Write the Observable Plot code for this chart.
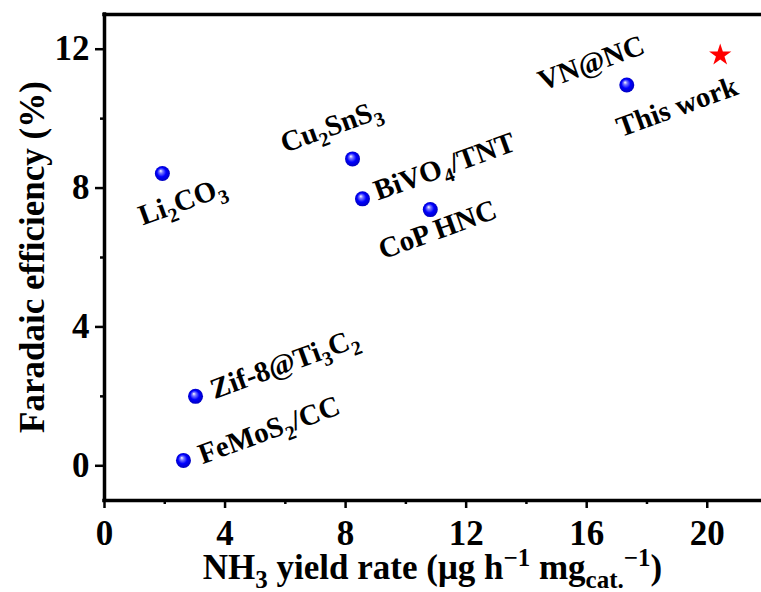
<!DOCTYPE html>
<html>
<head>
<meta charset="utf-8">
<script src="https://cdn.jsdelivr.net/npm/d3@7"></script>
<script src="https://cdn.jsdelivr.net/npm/@observablehq/plot@0.6"></script>
<style>
  html, body { margin: 0; padding: 0; background: #fff; }
  #chart svg { display: block; }
</style>
</head>
<body>
<div id="chart"></div>
<script>
// ---- data ----
const names      = ["Li_2CO_3", "Cu_2SnS_3", "BiVO_4/TNT", "CoP HNC", "VN@NC", "Zif-8@Ti_3C_2", "FeMoS_2/CC", "This work"];
const yieldRate  = [1.92, 8.23, 8.56, 10.81, 17.33, 3.02, 2.62, 20.43];
const efficiency = [8.42, 8.84, 7.69, 7.38, 10.97, 2.00, 0.155, 11.83];
// label anchor points (data units)
const labelX     = [2.58, 7.52, 11.28, 11.05, 16.15, 5.98, 5.46, 19.0];
const labelY     = [7.62, 9.78, 8.62, 6.80, 11.60, 2.94, 1.03, 10.34];
const xTicks      = [0, 4, 8, 12, 16, 20];
const xMinorTicks = [2, 6, 10, 14, 18];
const yTicks      = [0, 4, 8, 12];
const yMinorTicks = [2, 6, 10];
const xTitle = "NH_3 yield rate (μg h^{−1} mg_{cat.}^{−1})";
const yTitle = "Faradaic efficiency (%)";

const rows = names.map((n, i) => ({name: n, x: yieldRate[i], y: efficiency[i], lx: labelX[i], ly: labelY[i]}));
const isThisWork = d => d.name === "This work";

const FONT = "'Liberation Serif', 'Times New Roman', serif";

const chart = Plot.plot({
  width: 761,
  height: 592,
  marginLeft: 104,
  marginRight: 0,
  marginTop: 14,
  marginBottom: 92,
  x: {domain: [0, 21.8]},
  y: {domain: [-1, 13]},
  style: {fontFamily: FONT, fontWeight: "bold", background: "white", color: "black", overflow: "visible"},
  marks: [
    Plot.axisX({ticks: xTicks, tickSize: 8, tickPadding: 12, fontSize: 35, fontWeight: "bold", strokeWidth: 2.5, label: null}),
    Plot.axisX({ticks: xMinorTicks, tickSize: 4, tickFormat: () => "", strokeWidth: 2.5, label: null}),
    Plot.axisY({ticks: yTicks, tickSize: 9, tickPadding: 6, fontSize: 35, fontWeight: "bold", strokeWidth: 2.5, label: null}),
    Plot.axisY({ticks: yMinorTicks, tickSize: 4, tickFormat: () => "", strokeWidth: 2.5, label: null}),
    Plot.ruleX([0], {stroke: "black", strokeWidth: 3.5, strokeLinecap: "square"}),
    Plot.ruleY([-1, 13], {stroke: "black", strokeWidth: 3.5, strokeLinecap: "square"}),
    Plot.dot(rows, {filter: d => !isThisWork(d), x: "x", y: "y", r: 7.5, fill: "url(#ball)", stroke: "none"}),
    Plot.dot(rows, {filter: isThisWork, x: "x", y: "y", r: 7, symbol: "star", fill: "#ff0000", stroke: "none"}),
    Plot.text(rows, {x: "lx", y: "ly", text: "name", rotate: -20, textAnchor: "middle", lineAnchor: "middle",
                     fontSize: 29, fontWeight: "bold", fill: "black", className: "ptlabel"})
  ]
});

document.getElementById("chart").appendChild(chart);

const SVGNS = "http://www.w3.org/2000/svg";
function richText(textEl, fontSize) {
  const s = textEl.textContent;
  const tokens = [];
  let i = 0, buf = "";
  while (i < s.length) {
    const c = s[i];
    if (c === "_" || c === "^") {
      if (buf) tokens.push({t: buf, mode: 0});
      buf = "";
      let content;
      if (s[i + 1] === "{") { const j = s.indexOf("}", i + 2); content = s.slice(i + 2, j); i = j + 1; }
      else { content = s[i + 1]; i += 2; }
      tokens.push({t: content, mode: c === "_" ? 1 : -1});
    } else { buf += c; i++; }
  }
  if (buf) tokens.push({t: buf, mode: 0});
  textEl.textContent = "";
  let cur = 0;
  for (const tk of tokens) {
    const shift = tk.mode === 1 ? 0.25 * fontSize : tk.mode === -1 ? -0.36 * fontSize : 0;
    const ts = document.createElementNS(SVGNS, "tspan");
    if (shift - cur !== 0) ts.setAttribute("dy", shift - cur);
    if (tk.mode) ts.setAttribute("font-size", Math.round(0.7 * fontSize));
    ts.textContent = tk.t;
    cur = shift;
    textEl.appendChild(ts);
  }
}

const svg = d3.select(chart);
// gradient for the glossy blue balls
const defs = svg.insert("defs", ":first-child");
const g = defs.append("radialGradient").attr("id", "ball")
  .attr("cx", "0.5").attr("cy", "0.5").attr("r", "0.55").attr("fx", "0.38").attr("fy", "0.32");
g.append("stop").attr("offset", "0%").attr("stop-color", "#ffffff");
g.append("stop").attr("offset", "22%").attr("stop-color", "#7a7aff");
g.append("stop").attr("offset", "55%").attr("stop-color", "#0000ff");
g.append("stop").attr("offset", "100%").attr("stop-color", "#0000b4");

svg.selectAll("g.ptlabel text").each(function() { richText(this, 29); });

// axis titles
const xt = svg.append("text").attr("x", (104 + 761) / 2).attr("y", 579)
  .attr("text-anchor", "middle").attr("font-size", 35).attr("font-weight", "bold")
  .attr("font-family", FONT).attr("fill", "black").text(xTitle);
richText(xt.node(), 35);
svg.append("text").attr("transform", `translate(44,${(14 + 500) / 2}) rotate(-90)`)
  .attr("text-anchor", "middle").attr("font-size", 35).attr("font-weight", "bold")
  .attr("font-family", FONT).attr("fill", "black").text(yTitle);
</script>
</body>
</html>
